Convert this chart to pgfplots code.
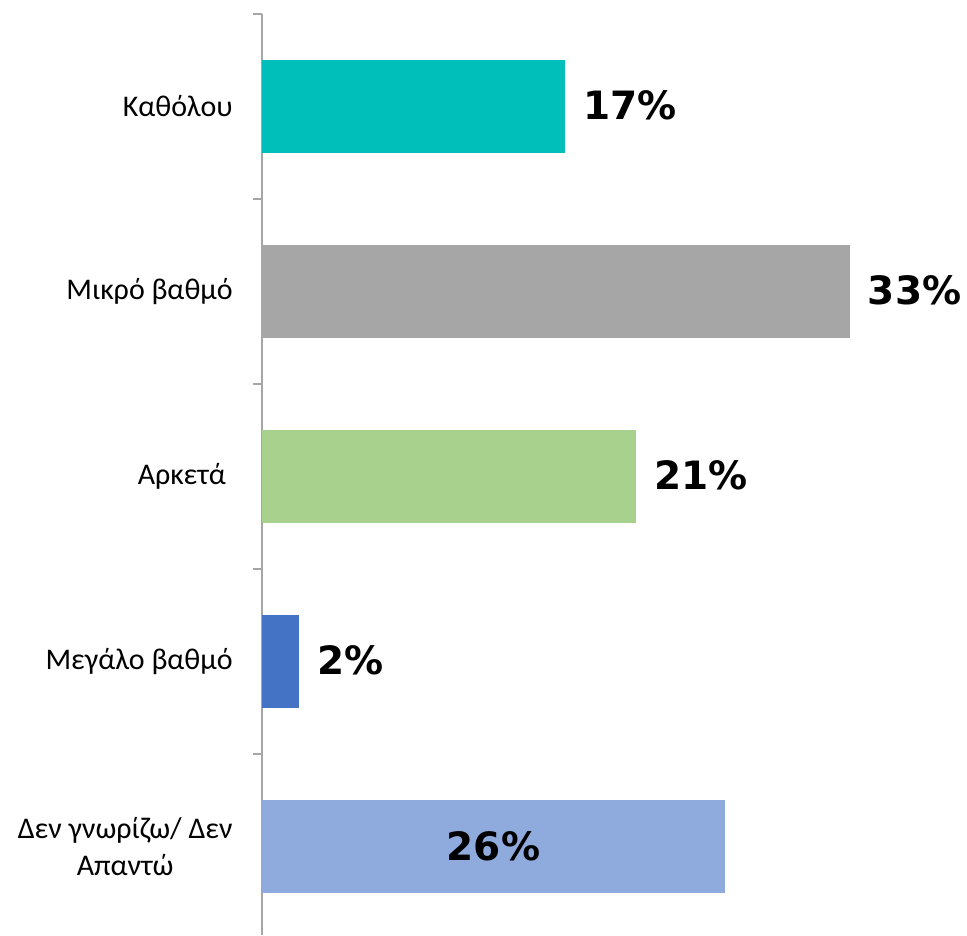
\documentclass[border=0pt]{standalone}
\usepackage{fontspec}
\setmainfont{Carlito}
\newfontfamily\valfont{DejaVu Sans}
\usepackage{pgfplots}
\pgfplotsset{compat=1.18}
\definecolor{c1}{HTML}{00BEBA}
\definecolor{c2}{HTML}{A6A6A6}
\definecolor{c3}{HTML}{A9D18E}
\definecolor{c4}{HTML}{4472C4}
\definecolor{c5}{HTML}{8FAADC}
\definecolor{axgray}{HTML}{A6A6A6}
\begin{document}
\begin{tikzpicture}
\begin{axis}[
  scale only axis, width=352.5pt, height=460.5pt,
  xmin=0, xmax=39.6, ymin=-0.478, ymax=4.5,
  axis x line=none, axis y line*=left,
  ytick={0,...,4},
  yticklabels={{Δεν γνωρίζω/ Δεν\\Απαντώ},{Μεγάλο βαθμό},{Αρκετά },{Μικρό βαθμό},{Καθόλου}},
  major tick length=0pt,
  minor ytick={0.5,1.5,2.5,3.5,4.5},
  minor tick length=4.5pt, tick align=outside,
  y axis line style={draw=axgray, line width=0.8pt},
  every minor tick/.style={draw=axgray, line width=0.8pt},
  yticklabel style={font=\fontsize{15}{18.5}\selectfont, align=center, anchor=east, inner sep=0pt, xshift=-14.5pt},
  xbar, bar width=0.5, bar shift=0pt, clip=false,
  every node near coord/.style={font=\valfont\bfseries\fontsize{19.5}{23}\selectfont, anchor=west, inner sep=0pt, xshift=9pt, yshift=0.5pt, text=black},
]
\addplot[fill=c1, draw=none, nodes near coords={17\%}] coordinates {(17,4)};
\addplot[fill=c2, draw=none, nodes near coords={33\%}] coordinates {(33,3)};
\addplot[fill=c3, draw=none, nodes near coords={21\%}] coordinates {(21,2)};
\addplot[fill=c4, draw=none, nodes near coords={2\%}] coordinates {(2.1,1)};
\addplot[fill=c5, draw=none] coordinates {(26,0)};
\node[font=\valfont\bfseries\fontsize{19.5}{23}\selectfont, anchor=center, inner sep=0pt] at (axis cs:13,0) {26\%};
\coordinate (o) at (rel axis cs:0,0);
\end{axis}
\pgfresetboundingbox
\path (o) ++(-131pt,0pt) rectangle ++(483.5pt,467.5pt);
\end{tikzpicture}
\end{document}
